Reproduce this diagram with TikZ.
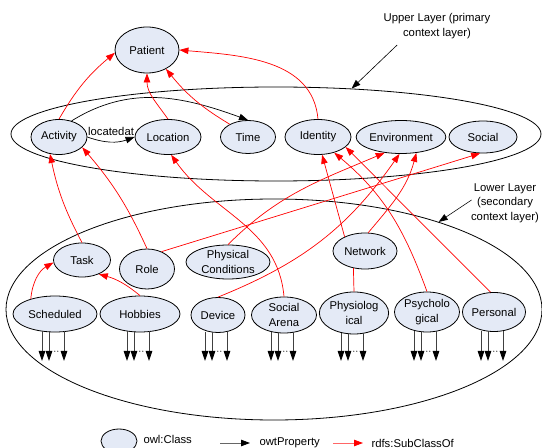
\documentclass[tikz,border=0pt]{standalone}
\usepackage{fontspec}
\setmainfont{Liberation Sans}
\usetikzlibrary{shapes.geometric, arrows.meta, positioning}
\definecolor{clsfill}{RGB}{228,234,246}

\begin{document}
\begin{tikzpicture}[
    x=1pt, y=1pt,
    font=\fontsize{11.3}{14.5}\selectfont,
    cls/.style={draw, ellipse, fill=clsfill, inner sep=0pt, align=center, line width=0.8pt},
    layer/.style={draw, ellipse, inner sep=0pt, line width=0.8pt},
    sub/.style={-{Triangle[length=9pt,width=6.5pt]}, red, line width=0.7pt},
    prop/.style={-{Triangle[length=9pt,width=6.5pt]}, line width=0.7pt},
    attr/.style={-{Triangle[length=10pt,width=6.5pt,black]}, draw=black!75, line width=0.8pt}
]
    \useasboundingbox (0,0) rectangle (542,448);

    % Layers
    \node[layer, minimum width=530pt, minimum height=94pt] (upper) at (276,314) {};
    \node[layer, minimum width=536pt, minimum height=221pt] (lower) at (274,138.5) {};

    \node[align=center] (uplabel) at (437,422) {Upper Layer (primary\\context layer)};
    \node[align=center] (lowlabel) at (505,245) {Lower Layer\\(secondary\\context layer)};
    \draw[prop, line width=0.6pt] ([xshift=17pt,yshift=-3pt]uplabel.south west) -- (upper.31);
    \draw[prop, line width=0.6pt] ([xshift=4pt,yshift=3pt]lowlabel.west) -- (lower.28);

    % Upper layer classes
    \node[cls, minimum width=64pt, minimum height=46pt] (patient) at (147,398) {Patient};
    \node[cls, minimum width=56pt, minimum height=35pt] (activity) at (59,311) {Activity};
    \node[cls, minimum width=66pt, minimum height=35pt] (location) at (168,311) {Location};
    \node[cls, minimum width=55pt, minimum height=33pt] (time) at (248,311) {Time};
    \node[cls, minimum width=66pt, minimum height=35pt] (identity) at (318,311) {Identity};
    \node[cls, minimum width=84pt, minimum height=33pt] (env) at (401,311) {Environment};
    \node[cls, minimum width=68pt, minimum height=32pt] (social) at (483,311) {Social};

    % Lower layer classes
    \node[cls, minimum width=57pt, minimum height=34pt] (task) at (82,188) {Task};
    \node[cls, minimum width=55pt, minimum height=40pt] (role) at (147,179) {Role};
    \node[cls, minimum width=84pt, minimum height=34pt] (phys) at (228,186) {Physical\\Conditions};
    \node[cls, minimum width=64pt, minimum height=36pt] (network) at (365,197) {Network};

    \node[cls, minimum width=84pt, minimum height=36pt] (sched) at (55,134) {Scheduled};
    \node[cls, minimum width=80pt, minimum height=36pt] (hobbies) at (140,134) {Hobbies};
    \node[cls, minimum width=54pt, minimum height=35pt] (device) at (218,133) {Device};
    \node[cls, minimum width=65pt, minimum height=36pt] (arena) at (284,133) {Social\\Arena};
    \node[cls, minimum width=65pt, minimum height=42pt] (physio) at (354,135) {Physiolog\\ical};
    \node[cls, minimum width=65pt, minimum height=40pt] (psycho) at (427,136) {Psycholo\\gical};
    \node[cls, minimum width=62pt, minimum height=39pt] (personal) at (494,136) {Personal};

    % Properties
    \draw[prop] (activity.52) to[out=32,in=160] (time.north);
    \draw[prop] (activity.east) to[bend right=20] node[above=2pt] (locatedat) {locatedat} (location.west);

    % SubClassOf, upper layer
    \draw[sub] (activity.north) to[bend left=10] (patient.185);
    \draw[sub] (location.north) to[out=125,in=-90] (patient.south);
    \draw[sub] (time.145) to[bend left=10] (patient.-45);
    \draw[sub] (identity.north) to[out=95,in=-5] (patient.east);

    % SubClassOf, lower to upper
    \draw[sub] (task.north) to[bend left=8] (activity.242);
    \draw[sub] (role.north) to[bend right=8] (activity.-24);
    \draw[sub] (role.50) -- (social.-100);
    \draw[sub] (arena.north) to[out=95,in=-55] (location.-80);
    \draw[sub] (phys.north) to[out=45,in=-157] (env.224);
    \draw[sub] (device.north) to[out=22,in=-125] (env.-95);
    \draw[sub] (network.80) to[out=50,in=-105] (env.-46);
    \draw[sub] (network.145) -- (identity.-77);
    \draw[sub] (psycho.north) to[out=110,in=-40] (identity.-44);
    \draw[sub] (personal.100) -- (identity.-20);
    \draw[red, line width=0.7pt] (physio.north) -- (network.236);

    % SubClassOf, lower layer
    \draw[sub] (sched.148) to[out=85,in=-150] (task.185);
    \draw[sub] (hobbies.north) to[bend right=12] (task.-40);

    % Open properties below the classes
    \coordinate (base) at (0,87);
    \foreach \n in {sched,hobbies,device,arena,physio,psycho,personal}{
        \foreach \dx in {-13,-6,9}
            \draw[attr] ([xshift=\dx pt,yshift=1pt]\n.south) coordinate (t) -- (t |- base);
        \node[inner sep=0pt] (\n-dots) at ([xshift=1.5pt]\n.south |- 0,96) {$\cdot\cdot$};
    }

    % Legend
    \node[cls, minimum width=36pt, minimum height=24pt] (legcls) at (119,7) {};
    \node[anchor=west] (legclstxt) at (140,9) {owl:Class};
    \coordinate (legpa) at (220,5);
    \coordinate (legpb) at (250,5);
    \draw[-{Triangle[length=9pt,width=6.5pt,black]}, draw=black!60, line width=0.8pt] (legpa) -- (legpb);
    \node[anchor=west] (legproptxt) at (256,5) {owtProperty};
    \coordinate (legsa) at (333,5);
    \coordinate (legsb) at (363,5);
    \draw[-{Triangle[length=9pt,width=6.5pt,red]}, draw=red!60, line width=0.8pt] (legsa) -- (legsb);
    \node[anchor=west] (legsubtxt) at (368,5) {rdfs:SubClassOf};
\end{tikzpicture}
\end{document}
